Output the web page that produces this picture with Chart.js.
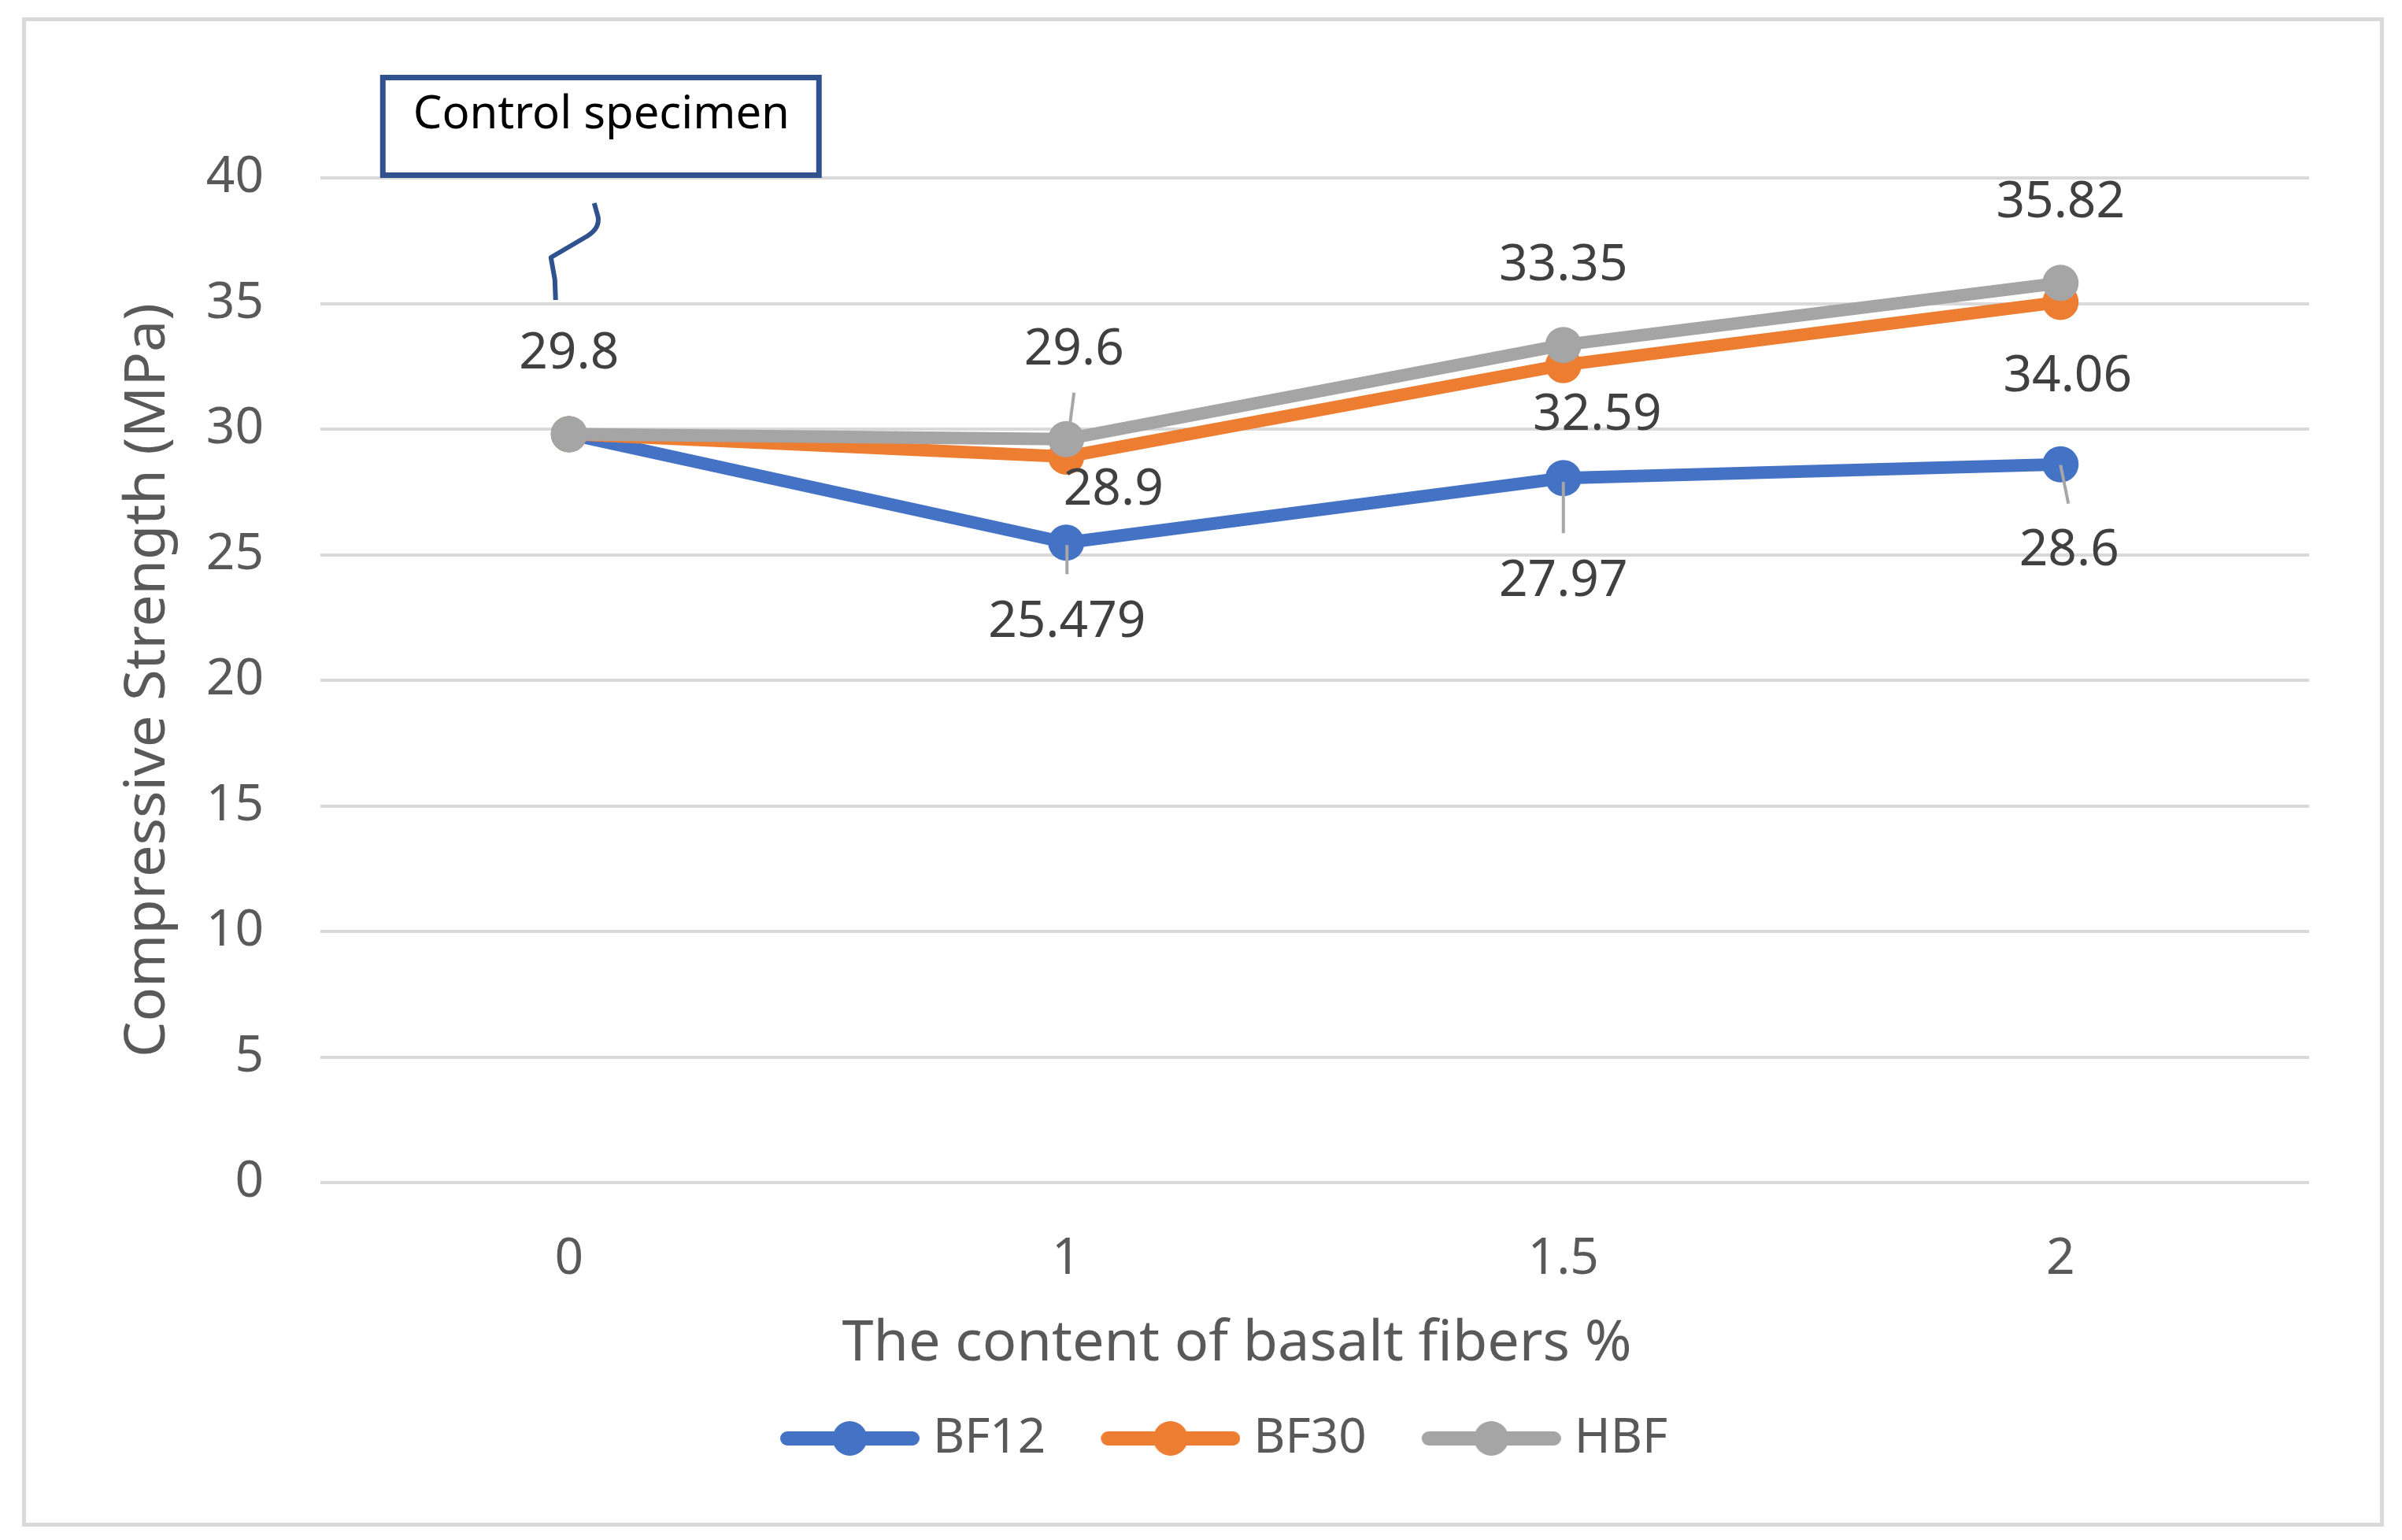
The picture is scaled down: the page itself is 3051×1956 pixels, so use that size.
<!DOCTYPE html>
<html>
<head>
<meta charset="utf-8">
<script src="https://cdn.jsdelivr.net/npm/chart.js@4.4.1/dist/chart.umd.min.js"></script>
<style>
html,body{margin:0;padding:0;background:#fff;}
canvas{display:block;}
</style>
</head>
<body>
<canvas id="c" width="3051" height="1956" style="width:3051px;height:1956px"></canvas>
<script>
// ---- data ----
const categories = ['0', '1', '1.5', '2'];
const seriesNames = ['BF12', 'BF30', 'HBF'];
const bf12 = [29.8, 25.479, 28.05, 28.6];
const bf30 = [29.8, 28.9, 32.55, 35.06];
const hbf  = [29.8, 29.6, 33.35, 35.82];
const bf12Labels = ['', '25.479', '27.97', '28.6'];
const bf30Labels = ['', '28.9', '32.59', '34.06'];
const hbfLabels  = ['29.8', '29.6', '33.35', '35.82'];
const yMin = 0, yMax = 40, yStep = 5;
const xTitle = 'The content of basalt fibers %';
const yTitle = 'Compressive Strength (MPa)';
const calloutText = 'Control specimen';

// ---- styling ----
const colors = ['#4472C4', '#ED7D31', '#A5A5A5'];
const FONT = '"Noto Sans", "Open Sans", sans-serif';
Chart.defaults.font.family = FONT;

// label placement (offsets from the point, px) and optional leader lines [x1,y1,x2,y2]
const labelPlacement = [
  [null, {dx: 1, dy: 102, lead: [1, 3, 1, 40]}, {dx: 0, dy: 132, lead: [0, 5, 0, 70]}, {dx: 11, dy: 110, lead: [0, 1, 10, 50]}],
  [null, {dx: 60, dy: 43}, {dx: 43, dy: 64}, {dx: 9, dy: 95}],
  [{dx: 0, dy: -102}, {dx: 10, dy: -113, lead: [10, -59, 5, -21]}, {dx: 0, dy: -100}, {dx: 0, dy: -102}]
];
const allLabels = [bf12Labels, bf30Labels, hbfLabels];

// legend icons: line with circle marker
function makeIcon(color) {
  const L = 74, vis = 177, h = 48;
  const cv = document.createElement('canvas');
  cv.width = L + vis; cv.height = h;
  const c = cv.getContext('2d');
  c.strokeStyle = color; c.lineWidth = 18; c.lineCap = 'round';
  c.beginPath(); c.moveTo(L + 9, h / 2); c.lineTo(L + vis - 9, h / 2); c.stroke();
  c.fillStyle = color;
  c.beginPath(); c.arc(L + vis / 2, h / 2, 22, 0, Math.PI * 2); c.fill();
  return cv;
}
const legendIcons = colors.map(makeIcon);

const framePlugin = {
  id: 'frame',
  beforeDraw(chart) {
    const c = chart.ctx;
    c.save();
    c.fillStyle = '#ffffff';
    c.fillRect(0, 0, chart.width, chart.height);
    c.strokeStyle = '#D9D9D9';
    c.lineWidth = 5;
    c.strokeRect(30.5, 24.5, chart.width - 56, chart.height - 44);
    c.restore();
  }
};

const dataLabelPlugin = {
  id: 'dataLabels',
  afterDatasetsDraw(chart) {
    const c = chart.ctx;
    c.save();
    chart.data.datasets.forEach((ds, i) => {
      const meta = chart.getDatasetMeta(i);
      meta.data.forEach((pt, j) => {
        const txt = allLabels[i][j];
        const pl = labelPlacement[i][j];
        if (!txt || !pl) return;
        if (pl.lead) {
          c.strokeStyle = '#A6A6A6';
          c.lineWidth = 4;
          c.beginPath();
          c.moveTo(pt.x + pl.lead[0], pt.y + pl.lead[1]);
          c.lineTo(pt.x + pl.lead[2], pt.y + pl.lead[3]);
          c.stroke();
        }
        c.fillStyle = '#404040';
        c.font = '64px ' + FONT;
        c.textAlign = 'center';
        c.textBaseline = 'middle';
        c.fillText(txt, pt.x + pl.dx, pt.y + pl.dy);
      });
    });
    c.restore();
  }
};

const annotationPlugin = {
  id: 'annot',
  afterDraw(chart) {
    const c = chart.ctx;
    const xs = chart.scales.x, ys = chart.scales.y;
    const x0 = xs.getPixelForValue(0);
    const y40 = ys.getPixelForValue(40);
    c.save();
    // x axis title
    c.fillStyle = '#595959';
    c.font = '72px ' + FONT;
    c.textAlign = 'center';
    c.textBaseline = 'middle';
    c.fillText(xTitle, (chart.chartArea.left + chart.chartArea.right) / 2 - 99, xs.bottom - 79);
    // callout box
    const bl = x0 - 240, br = x0 + 321, bt = y40 - 131, bb = y40;
    c.fillStyle = '#ffffff';
    c.fillRect(bl, bt, br - bl, bb - bt);
    c.strokeStyle = '#2F528F';
    c.lineWidth = 7;
    c.strokeRect(bl + 3.5, bt + 3.5, br - bl - 7, bb - bt - 7);
    c.fillStyle = '#000000';
    c.font = '58px ' + FONT;
    c.textAlign = 'left';
    c.textBaseline = 'alphabetic';
    c.fillText(calloutText, x0 - 198, y40 - 63);
    // leader squiggle
    c.strokeStyle = '#2F528F';
    c.lineWidth = 6;
    c.lineJoin = 'round';
    c.beginPath();
    c.moveTo(x0 + 32, y40 + 32);
    c.lineTo(x0 + 37, y40 + 50);
    c.quadraticCurveTo(x0 + 39, y40 + 64, x0 + 23, y40 + 74);
    c.lineTo(x0 - 23, y40 + 101);
    c.lineTo(x0 - 18, y40 + 129);
    c.lineTo(x0 - 17, y40 + 155);
    c.stroke();
    c.restore();
  }
};

const seriesData = [bf12, bf30, hbf];
const datasets = seriesNames.map((name, i) => ({
  label: name,
  data: seriesData[i],
  borderColor: colors[i],
  backgroundColor: colors[i],
  pointBackgroundColor: colors[i],
  pointBorderColor: colors[i],
  pointBorderWidth: 0,
  pointRadius: 23,
  pointHoverRadius: 23,
  borderWidth: 16,
  borderCapStyle: 'round',
  borderJoinStyle: 'round',
  tension: 0,
  fill: false,
  order: 3 - i
}));

new Chart(document.getElementById('c'), {
  type: 'line',
  data: {labels: categories, datasets},
  options: {
    responsive: false,
    animation: false,
    devicePixelRatio: 1,
    events: [],
    layout: {padding: {left: 116, right: 118, top: 226, bottom: 88}},
    plugins: {
      tooltip: {enabled: false},
      legend: {
        position: 'bottom',
        labels: {
          usePointStyle: true,
          pointStyleWidth: 223,
          padding: 10,
          color: '#595959',
          font: {size: 62},
          generateLabels(chart) {
            const items = Chart.defaults.plugins.legend.labels.generateLabels(chart);
            items.sort((a, b) => a.datasetIndex - b.datasetIndex);
            items.forEach(it => { it.pointStyle = legendIcons[it.datasetIndex]; it.fontColor = '#595959'; });
            return items;
          }
        }
      }
    },
    scales: {
      x: {
        type: 'category',
        offset: true,
        grid: {display: false, drawTicks: false},
        border: {display: false},
        ticks: {color: '#595959', font: {size: 64}, padding: 59},
        afterFit(s) { s.height = 284; }
      },
      y: {
        min: yMin,
        max: yMax,
        ticks: {stepSize: yStep, color: '#595959', font: {size: 64}, padding: 72},
        grid: {color: '#D9D9D9', lineWidth: 4, drawTicks: false},
        border: {display: false},
        title: {display: true, text: yTitle, color: '#595959', font: {size: 72}, padding: {top: 29, bottom: 0}},
        afterFit(s) { s.width = 291; }
      }
    }
  },
  plugins: [framePlugin, dataLabelPlugin, annotationPlugin]
});
</script>
</body>
</html>
